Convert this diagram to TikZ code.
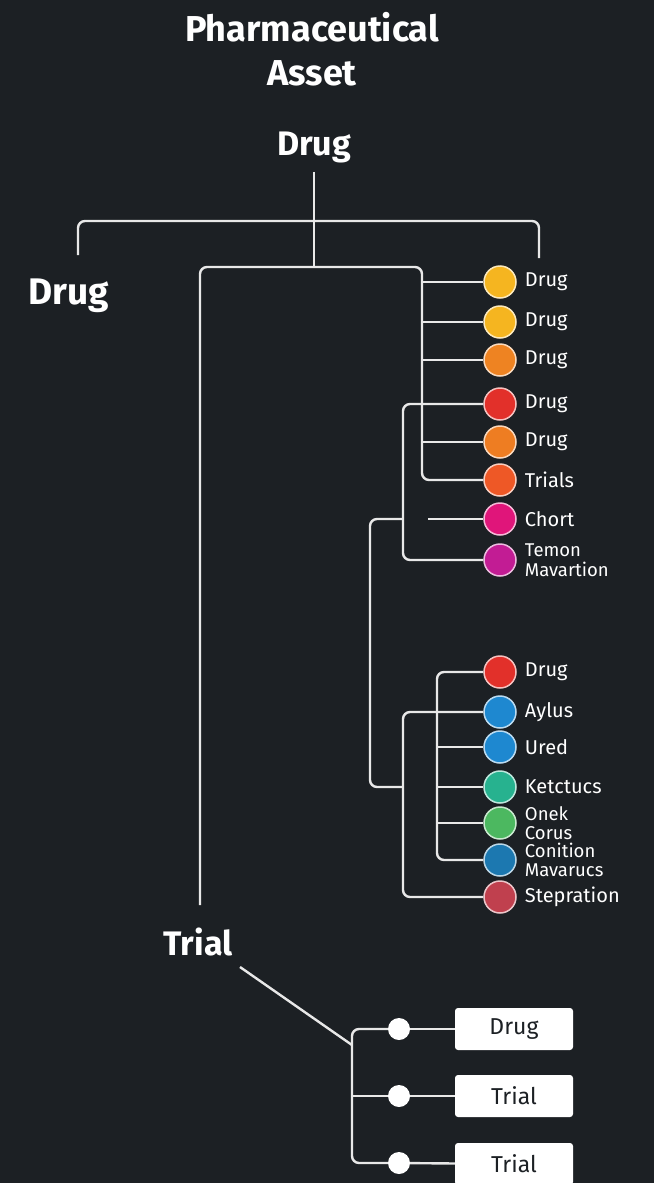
\documentclass[tikz,border=0pt]{standalone}
\usepackage{fontspec}
\setmainfont{Fira Sans}
\usetikzlibrary{positioning}
\definecolor{bg}{HTML}{1C2024}
\definecolor{ln}{HTML}{E8E8E8}
\definecolor{cYel}{HTML}{F5B520}
\definecolor{cOra}{HTML}{EE8322}
\definecolor{cRed}{HTML}{E2302A}
\definecolor{cOrb}{HTML}{EE7D22}
\definecolor{cTri}{HTML}{EE5826}
\definecolor{cMag}{HTML}{E0157A}
\definecolor{cPur}{HTML}{C21C94}
\definecolor{cBlu}{HTML}{1E88D0}
\definecolor{cTea}{HTML}{27B28F}
\definecolor{cGre}{HTML}{4CB860}
\definecolor{cDbl}{HTML}{1C78B0}
\definecolor{cRos}{HTML}{C0404E}

\begin{document}
\begin{tikzpicture}
[x=1pt,y=-1pt,%
  line/.style={draw=ln,line width=2.4pt,rounded corners=7pt},%
  dot/.style={shape=circle,minimum size=32pt,inner sep=0pt,draw=#1!30!white,line width=1.5pt,fill=#1},%
  lbl/.style={text=white,font=\fontsize{20}{17.5}\selectfont,align=left,inner sep=0pt,right=8pt of #1},%
  two/.style={font=\fontsize{18.5}{19.5}\selectfont},%
  head/.style={text=white,inner sep=0pt,font=\fontsize{34}{44}\selectfont\bfseries},%
  tag/.style={fill=white,rounded corners=3pt,minimum width=118pt,minimum height=42pt,text=bg,font=\fontsize{23}{26}\selectfont},%
  pin/.style={shape=circle,fill=white,minimum size=22pt,inner sep=0pt}]
\fill[bg] (0,0) rectangle (654,1183);
\useasboundingbox (0,0) rectangle (654,1183);
%%
\node[head,align=center,font=\fontsize{36}{44}\selectfont\bfseries] (title) at (312,49) {Pharmaceutical\\Asset};
\node[head] (root) at (314,147) {Drug};
\node[head,font=\fontsize{37}{44}\selectfont\bfseries] (drugL) at (69,296) {Drug};
\node[head] (trial) at (198,942) {Trial};
%%
\node[dot=cYel] (c1) at (500,282) {};
\node[dot=cYel] (c2) at (500,322) {};
\node[dot=cOra] (c3) at (500,360) {};
\node[dot=cRed] (c4) at (500,404) {};
\node[dot=cOrb] (c5) at (500,442) {};
\node[dot=cTri] (c6) at (500,480) {};
\node[dot=cMag] (c7) at (500,519) {};
\node[dot=cPur] (c8) at (500,560) {};
\node[dot=cRed] (c9) at (500,672) {};
\node[dot=cBlu] (c10) at (500,712) {};
\node[dot=cBlu] (c11) at (500,747) {};
\node[dot=cTea] (c12) at (500,787) {};
\node[dot=cGre] (c13) at (500,823) {};
\node[dot=cDbl] (c14) at (500,860) {};
\node[dot=cRos] (c15) at (500,897) {};
%%
\node[lbl=c1] (l1) {Drug};
\node[lbl=c2] (l2) {Drug};
\node[lbl=c3] (l3) {Drug};
\node[lbl=c4] (l4) {Drug};
\node[lbl=c5] (l5) {Drug};
\node[lbl=c6] (l6) {Trials};
\node[lbl=c7] (l7) {Chort};
\node[lbl=c8,two] (l8) {Temon\\Mavartion};
\node[lbl=c9] (l9) {Drug};
\node[lbl=c10] (l10) {Aylus};
\node[lbl=c11] (l11) {Ured};
\node[lbl=c12] (l12) {Ketctucs};
\node[lbl=c13,two] (l13) {Onek\\Corus};
\node[lbl=c14,two] (l14) {Conition\\Mavarucs};
\node[lbl=c15] (l15) {Stepration};
%%
\node[pin] (p1) at (399,1029) {};
\node[pin] (p2) at (399,1096) {};
\node[pin] (p3) at (399,1163) {};
\node[tag] (t1) at (514,1029) {Drug};
\node[tag] (t2) at (514,1096) {Trial};
\node[tag] (t3) at (514,1164) {Trial};
%%
\coordinate (bl) at (78,255);
\coordinate (br) at (539,258);
\coordinate (bm) at (314,221);
\coordinate (bt) at (314,267);
\coordinate (tl) at (200,905);
\coordinate (a1) at (422,267);
\coordinate (b2) at (403,519);
\coordinate (s1) at (370,519);
\coordinate (ch) at (428,519);
\coordinate (d2) at (403,787);
\coordinate (e1) at (437,760);
\coordinate (q0) at (240,967);
\coordinate (q1) at (352,1045);
%%
\draw[line] ([yshift=-9pt]root.south -| bt) -- (bt);
\draw[line] (bl) |- (bm) -| (br);
\draw[line] (tl) |- (a1) |- (c6.west);
\foreach \n in {c1,c2,c3,c5}
  \draw[line] (a1 |- \n.west) -- (\n.west);
\draw[line] (c4.west) -| (b2) |- (c8.west);
\draw[line] (b2) -- (s1) |- (d2);
\draw[line] (ch) -- (c7.west);
\draw[line] (c10.west) -| (d2) |- (c15.west);
\draw[line] (c9.west) -| (e1) |- (c14.west);
\foreach \n in {c11,c12,c13}
  \draw[line] (e1 |- \n.west) -- (\n.west);
%%
\draw[line] (q0) -- (q1);
\draw[line] (p1.west) -| (q1) |- (p3.west);
\draw[line] (q1 |- p2.west) -- (p2.west);
\path
\foreach \startNode/\endNode in {p1/t1, p2/t2, p3/t3}
{
  (\startNode) edge[line] (\endNode)
};
\end{tikzpicture}
\end{document}
